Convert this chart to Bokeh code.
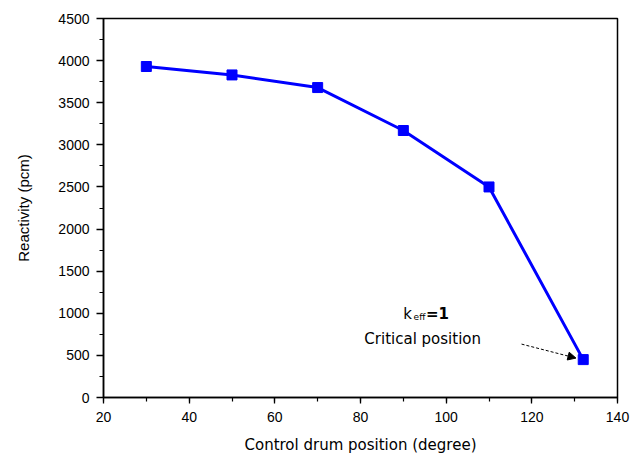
from bokeh.plotting import figure
from bokeh.models import Arrow, NormalHead, Label, FixedTicker, Range1d
from bokeh.embed import file_html
from bokeh.resources import INLINE

drum_position = [30, 50, 70, 90, 110, 132]
reactivity = [3930, 3830, 3680, 3170, 2500, 450]
x_ticks = [20, 40, 60, 80, 100, 120, 140]
y_ticks = [0, 500, 1000, 1500, 2000, 2500, 3000, 3500, 4000, 4500]

p = figure(width=639, height=456, output_backend="svg", toolbar_location=None,
           x_range=Range1d(20, 140), y_range=Range1d(0, 4500),
           min_border_left=103, min_border_right=22, min_border_top=18, min_border_bottom=59)
p.background_fill_color = "white"
p.border_fill_color = "white"
p.outline_line_color = "black"
p.outline_line_width = 1.5
p.grid.visible = False

p.line(drum_position, reactivity, line_color="#0000ff", line_width=3)
p.scatter(drum_position, reactivity, marker="square", size=10, fill_color="#0000ff", line_color="#0000ff")

for ax in (p.xaxis[0], p.yaxis[0]):
    ax.axis_line_width = 1.5
    ax.major_tick_in = 0
    ax.minor_tick_in = 0
    ax.minor_tick_out = 4
    ax.major_tick_line_width = 1.3
    ax.minor_tick_line_width = 1.2
    ax.major_label_text_font = "Liberation Sans"
    ax.major_label_text_font_size = "14px"
    ax.major_label_text_color = "black"
    ax.axis_label_text_font_style = "normal"
    ax.axis_label_text_color = "black"
    ax.axis_label_text_font_size = "15px"

p.xaxis.major_tick_out = 6
p.yaxis.major_tick_out = 7
p.xaxis.axis_label_text_font = "DejaVu Sans"
p.yaxis.axis_label_text_font = "Liberation Sans"

p.xaxis.ticker = FixedTicker(ticks=x_ticks, minor_ticks=list(range(20, 141, 10)))
p.yaxis.ticker = FixedTicker(ticks=y_ticks, minor_ticks=list(range(0, 4501, 250)))
p.xaxis.major_label_standoff = 8
p.yaxis.major_label_standoff = 7
p.xaxis.axis_label_standoff = 11
p.yaxis.axis_label_standoff = 23
p.xaxis.axis_label = "Control drum position (degree)"
p.yaxis.axis_label = "Reactivity (pcm)"

p.add_layout(Label(x=90.0, y=994, text="k", text_font="DejaVu Sans", text_font_size="15px",
                   text_baseline="alphabetic", text_color="black"))
p.add_layout(Label(x=92.4, y=950, text="eff", text_font="DejaVu Sans", text_font_size="9px",
                   text_baseline="alphabetic", text_color="black"))
p.add_layout(Label(x=95.3, y=994, text="=1", text_font="DejaVu Sans", text_font_size="15px",
                   text_font_style="bold", text_baseline="alphabetic", text_color="black"))
p.add_layout(Label(x=80.9, y=697, text="Critical position", text_font="DejaVu Sans",
                   text_font_size="15px", text_baseline="alphabetic", text_color="black"))

p.add_layout(Arrow(x_start=117.6, y_start=634, x_end=130.3, y_end=468,
                   line_color="black", line_width=1, line_dash="3 2",
                   end=NormalHead(size=8, fill_color="black", line_color="black")))

open("out.html", "w").write(file_html(p, INLINE))
